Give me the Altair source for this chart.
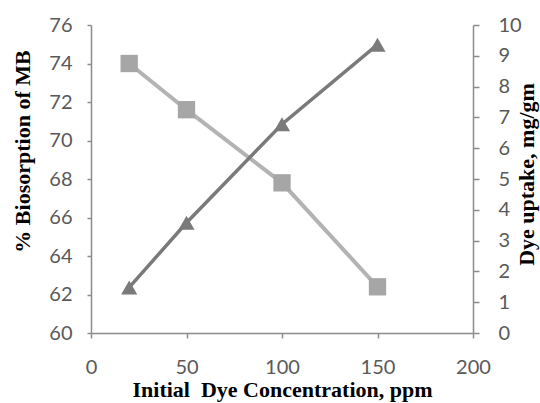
import altair as alt
import pandas as pd

conc = [20, 50, 100, 150]
biosorption = [74.0, 71.6, 67.8, 62.4]
uptake = [1.48, 3.58, 6.78, 9.36]

df = pd.DataFrame({"conc": conc, "bio": biosorption, "up": uptake})

LABEL_FONT = "Lato"
TITLE_FONT = "Liberation Serif"
AXIS_COLOR = "#8c8c8c"
LABEL_COLOR = "#595959"

x_enc = alt.X(
    "conc:Q",
    scale=alt.Scale(domain=[0, 200], nice=False, zero=False),
    axis=alt.Axis(
        values=[0, 50, 100, 150, 200],
        title="Initial\u00a0 Dye Concentration, ppm",
        titleY=56,
        titleBaseline="middle",
        labelPadding=19,
        tickSize=5,
    ),
)

base = alt.Chart(df)

left = base.mark_line(
    color="#b3b3b3",
    strokeWidth=4,
    point=alt.OverlayMarkDef(shape="square", filled=True, size=300, color="#a6a6a6", opacity=1),
).encode(
    x=x_enc,
    y=alt.Y(
        "bio:Q",
        scale=alt.Scale(domain=[60, 76], nice=False, zero=False),
        axis=alt.Axis(
            orient="left",
            values=[60, 62, 64, 66, 68, 70, 72, 74, 76],
            title="% Biosorption of MB",
            titleAngle=270,
            titleX=-69,
            titleY=126,
            titleAlign="center",
            titleBaseline="middle",
            labelPadding=15,
            tickSize=4,
        ),
    ),
)

right = base.mark_line(
    color="#7a7a7a",
    strokeWidth=3.5,
    point=alt.OverlayMarkDef(shape="triangle-up", filled=True, size=260, color="#7a7a7a", opacity=1),
).encode(
    x="conc:Q",
    y=alt.Y(
        "up:Q",
        scale=alt.Scale(domain=[0, 10], nice=False, zero=False),
        axis=alt.Axis(
            orient="right",
            values=[0, 1, 2, 3, 4, 5, 6, 7, 8, 9, 10],
            title="Dye uptake, mg/gm",
            titleAngle=270,
            titleX=53,
            titleY=149,
            titleAlign="center",
            titleBaseline="middle",
            labelPadding=19,
            tickSize=6,
        ),
    ),
)

chart = (
    alt.layer(left, right)
    .resolve_scale(y="independent")
    .properties(
        width=382,
        height=308,
        autosize=alt.AutoSizeParams(type="none"),
        padding={"left": 91, "top": 25, "right": 67, "bottom": 70},
        background="white",
    )
    .configure_view(stroke=None)
    .configure_axis(
        grid=False,
        domainColor=AXIS_COLOR,
        domainWidth=1.5,
        tickColor=AXIS_COLOR,
        tickWidth=1.5,
        labelFont=LABEL_FONT,
        labelFontSize=20,
        labelColor=LABEL_COLOR,
        labelOverlap=False,
        labelFlush=False,
        labelBound=False,
        titleFont=TITLE_FONT,
        titleFontSize=22,
        titleFontWeight="bold",
        titleColor="#000000",
    )
)

chart.save("out.html", embed_options={"renderer": "svg", "actions": False})
